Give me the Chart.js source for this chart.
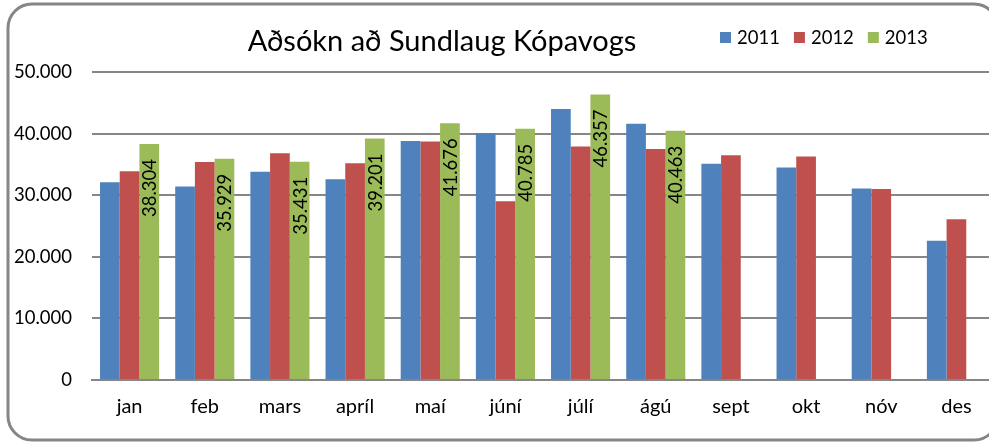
<!DOCTYPE html>
<html lang="is">
<head>
  <meta charset="UTF-8" />
  <title>Aðsókn að Sundlaug Kópavogs</title>
  <script src="https://cdn.jsdelivr.net/npm/chart.js"></script>
  <style>
    html, body { margin: 0; padding: 0; background: #fff; overflow: hidden; }
    #wrap { position: absolute; left: 0; top: 0; width: 1000px; height: 445px; }
  </style>
</head>
<body>
  <div id="wrap"><canvas id="poolChart"></canvas></div>

  <script>
    // data
    const months = ['jan', 'feb', 'mars', 'apríl', 'maí', 'júní', 'júlí', 'ágú', 'sept', 'okt', 'nóv', 'des'];
    const years = ['2011', '2012', '2013'];
    const visits2011 = [32100, 31400, 33800, 32600, 38800, 40100, 44000, 41600, 35100, 34500, 31100, 22600];
    const visits2012 = [33900, 35400, 36800, 35200, 38700, 29000, 37900, 37500, 36500, 36300, 31000, 26100];
    const visits2013 = [38304, 35929, 35431, 39201, 41676, 40785, 46357, 40463, null, null, null, null];
    const yTicks = [0, 10000, 20000, 30000, 40000, 50000];
    const colors = ['#4F81BD', '#C0504D', '#9BBB59'];

    const FONT = 'Lato, "Open Sans", sans-serif';
    const GREY = '#868686';

    // 12345 -> "12.345"
    const fmt = v => String(v).replace(/\B(?=(\d{3})+(?!\d))/g, '.');

    // frame, title and legend (excel style, title and legend on one row)
    const decor = {
      id: 'decor',
      beforeDraw(chart) {
        const c = chart.ctx;
        c.save();
        c.strokeStyle = GREY;
        c.lineWidth = 3;
        c.beginPath();
        c.roundRect(8, 4, 990, 436, 24);
        c.stroke();
        c.restore();
      },
      afterDraw(chart) {
        const c = chart.ctx;
        c.save();
        c.fillStyle = '#000';
        c.font = '29px ' + FONT;
        c.textAlign = 'center';
        c.textBaseline = 'alphabetic';
        c.fillText('Aðsókn að Sundlaug Kópavogs', 442, 51);

        // legend
        c.font = '18.5px ' + FONT;
        c.textAlign = 'left';
        let x = 720;
        chart.data.datasets.forEach(ds => {
          c.fillStyle = ds.backgroundColor;
          c.fillRect(x, 32, 11, 11);
          c.fillStyle = '#000';
          c.fillText(ds.label, x + 17, 44);
          x += 17 + c.measureText(ds.label).width + 14;
        });
        c.restore();
      }
    };

    // vertical value labels inside the 2013 bars
    const barLabels = {
      id: 'barLabels',
      afterDatasetsDraw(chart) {
        const c = chart.ctx;
        const meta = chart.getDatasetMeta(2);
        c.save();
        c.fillStyle = '#000';
        c.font = '18.5px ' + FONT;
        c.textAlign = 'right';
        c.textBaseline = 'middle';
        meta.data.forEach((bar, i) => {
          const v = visits2013[i];
          if (v == null) return;
          c.save();
          c.translate(bar.x, bar.y);
          c.rotate(-Math.PI / 2);
          c.fillText(fmt(v), -15, 1);
          c.restore();
        });
        c.restore();
      }
    };

    const series = [visits2011, visits2012, visits2013];

    new Chart(document.getElementById('poolChart'), {
      type: 'bar',
      data: {
        labels: months,
        datasets: series.map((d, i) => ({
          label: years[i],
          data: d,
          backgroundColor: colors[i],
          borderWidth: 0,
          categoryPercentage: 0.786,
          barPercentage: 1.0
        }))
      },
      options: {
        responsive: true,
        maintainAspectRatio: false,
        animation: false,
        layout: { padding: { top: 72, right: 6, left: 0, bottom: 0 } },
        plugins: {
          legend: { display: false },
          title: { display: false },
          tooltip: { enabled: false }
        },
        scales: {
          x: {
            grid: { display: false, drawTicks: false },
            border: { color: GREY, width: 2 },
            ticks: { color: '#000', font: { family: FONT, size: 20 }, padding: 15 },
            afterFit: s => { s.height = 65; }
          },
          y: {
            min: 0,
            max: 50000,
            afterBuildTicks: s => { s.ticks = yTicks.map(v => ({ value: v })); },
            grid: { color: GREY, lineWidth: 2, drawTicks: false },
            border: { display: false },
            ticks: {
              color: '#000',
              font: { family: FONT, size: 18.5 },
              padding: 20,
              callback: v => fmt(v)
            },
            afterFit: s => { s.width = 92; }
          }
        }
      },
      plugins: [decor, barLabels]
    });
  </script>
</body>
</html>
